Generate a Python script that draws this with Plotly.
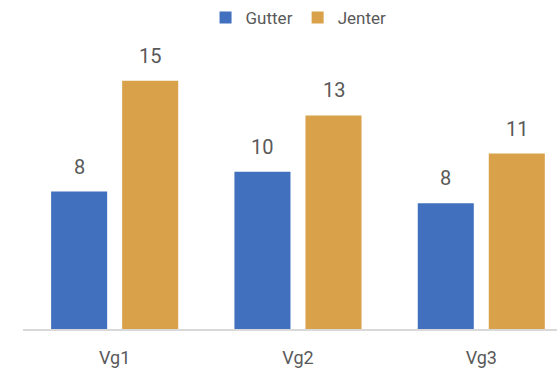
import plotly.graph_objects as go

categories = ["Vg1", "Vg2", "Vg3"]
gutter = [8.3, 9.5, 7.6]
jenter = [15.0, 12.9, 10.6]

BLUE = "#4170BE"
GOLD = "#D8A14A"
TEXT = "#595959"
FONT = "Roboto, Arial, sans-serif"

fig = go.Figure()
fig.add_trace(go.Bar(name="Gutter", x=categories, y=gutter, marker_color=BLUE,
                     marker_line_width=0))
fig.add_trace(go.Bar(name="Jenter", x=categories, y=jenter, marker_color=GOLD,
                     marker_line_width=0))

# value labels floating above the bars
for i, cat in enumerate(categories):
    for off, val in ((-0.194, gutter[i]), (0.194, jenter[i])):
        fig.add_annotation(x=i + off, y=val, text=f"{val:.0f}", showarrow=False,
                           yanchor="bottom", yshift=11,
                           font=dict(family=FONT, size=20, color=TEXT))

fig.update_layout(
    width=557, height=374,
    barmode="group", bargap=0.225, bargroupgap=0.211,
    plot_bgcolor="white", paper_bgcolor="white",
    margin=dict(l=23, r=0, t=40, b=45),
    font=dict(family=FONT, color=TEXT),
    legend=dict(orientation="h", x=0.516, xanchor="center",
                yref="container", y=1.0, yanchor="top",
                font=dict(size=17, color=TEXT), itemwidth=30, traceorder="normal"),
    xaxis=dict(range=[-0.5, 2.413], showline=True, linecolor="#d9d9d9", linewidth=1.5,
               ticks="", tickfont=dict(size=18, color=TEXT), ticklabelstandoff=12),
    yaxis=dict(range=[0, 17.46], visible=False, showgrid=False),
)

# drop the default 8px body margin so the chart sits flush in the window
fig.write_html("out.html", config={"displayModeBar": False},
               post_script="document.body.style.margin = '0';")
